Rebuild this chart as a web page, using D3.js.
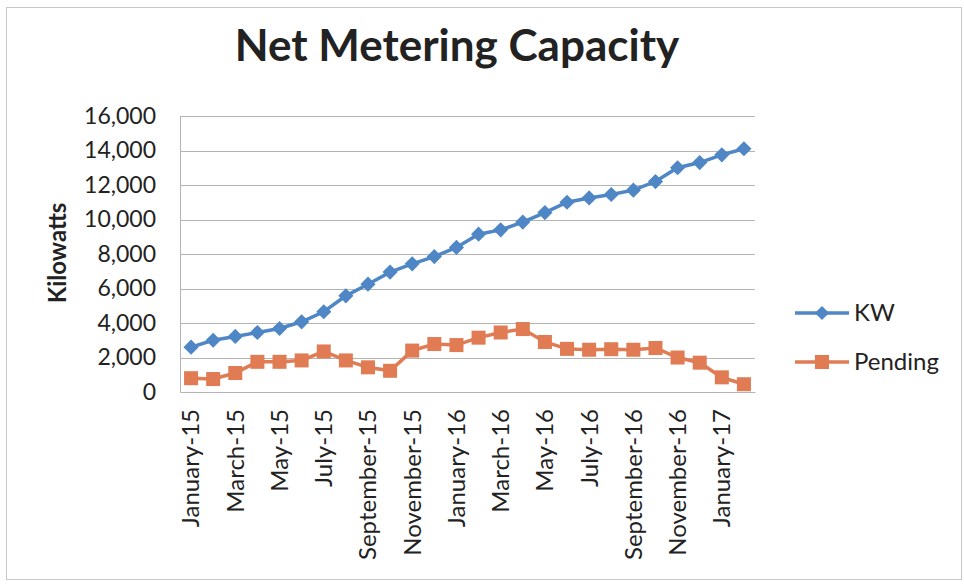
<!DOCTYPE html>
<html><head><meta charset="utf-8">
<script src="https://cdn.jsdelivr.net/npm/d3@7"></script>
<style>body{margin:0;background:#fff}svg{display:block}</style>
</head><body><svg id="c" width="964" height="584"></svg>
<script>
const months = ["January-15","February-15","March-15","April-15","May-15","June-15","July-15","August-15","September-15","October-15","November-15","December-15","January-16","February-16","March-16","April-16","May-16","June-16","July-16","August-16","September-16","October-16","November-16","December-16","January-17","February-17"];
const kwValues = [2600,3000,3220,3450,3680,4070,4650,5575,6250,6950,7430,7850,8380,9150,9400,9850,10400,11000,11250,11450,11700,12200,13000,13300,13750,14100];
const pendingValues = [800,750,1100,1750,1750,1830,2350,1830,1430,1230,2400,2780,2720,3150,3450,3650,2900,2500,2450,2480,2450,2550,2000,1700,850,450];
const yTicks = [0,2000,4000,6000,8000,10000,12000,14000,16000];
const seriesNames = ["KW","Pending"];
const colors = ["#4F86C6","#E07B53"];

const svg = d3.select("#c");
const font = "Lato, 'Open Sans', sans-serif";
svg.append("rect").attr("x",6.5).attr("y",7.5).attr("width",955).attr("height",572)
  .attr("fill","#fff").attr("stroke","#c8c8c8");

const m = {l:180,t:116,r:755,b:392};
const x = d3.scaleBand().domain(months).range([m.l,m.r]);
const y = d3.scaleLinear().domain([0,16000]).range([m.b,m.t]);

svg.append("text").attr("x",457).attr("y",61).attr("text-anchor","middle")
  .attr("font-family",font).attr("font-weight","bold").attr("font-size",44).attr("fill","#222")
  .text("Net Metering Capacity");

// gridlines
svg.append("g").selectAll("line").data(yTicks.filter(d=>d>0)).join("line")
  .attr("x1",m.l).attr("x2",m.r).attr("y1",d=>Math.round(y(d))+0.5).attr("y2",d=>Math.round(y(d))+0.5)
  .attr("stroke","#b4b4b4").attr("stroke-width",1);

// y axis
const ya = svg.append("g").attr("transform",`translate(${m.l},0)`)
  .call(d3.axisLeft(y).tickValues(yTicks).tickSize(0).tickPadding(24).tickFormat(d3.format(",")));
ya.select(".domain").attr("stroke","#b4b4b4");
ya.selectAll("text").attr("font-family",font).attr("font-size",23).attr("fill","#222");

// x axis
const xa = svg.append("g").attr("transform",`translate(0,${m.b})`)
  .call(d3.axisBottom(x).tickValues(months.filter((d,i)=>i%2===0)).tickSize(0));
xa.select(".domain").attr("stroke","#b4b4b4");
xa.selectAll("text").attr("font-family",font).attr("font-size",24).attr("fill","#222")
  .attr("transform","rotate(-90)").attr("text-anchor","end").attr("dy","0.35em").attr("x",-17).attr("y",0);

svg.append("text").attr("transform","translate(66,253) rotate(-90)").attr("text-anchor","middle")
  .attr("font-family",font).attr("font-weight","bold").attr("font-size",24).attr("fill","#222")
  .text("Kilowatts");

const cx = d => x(d) + x.bandwidth()/2;
const series = [kwValues, pendingValues];
series.forEach((vals,si)=>{
  const data = months.map((mo,i)=>({mo, v: vals[i]}));
  svg.append("path").datum(data).attr("fill","none").attr("stroke",colors[si]).attr("stroke-width",3.5)
    .attr("d", d3.line().x(d=>cx(d.mo)).y(d=>y(d.v)));
  const g = svg.append("g");
  if (si===0) {
    g.selectAll("path").data(data).join("path")
      .attr("d", d3.symbol().type(d3.symbolSquare).size(115)())
      .attr("transform", d=>`translate(${cx(d.mo)},${y(d.v)}) rotate(45)`).attr("fill",colors[si]);
  } else {
    g.selectAll("rect").data(data).join("rect")
      .attr("x",d=>cx(d.mo)-7).attr("y",d=>y(d.v)-7).attr("width",14).attr("height",14).attr("fill",colors[si]);
  }
});

// legend
const legY = [313,362];
seriesNames.forEach((n,i)=>{
  const g = svg.append("g");
  g.append("line").attr("x1",795).attr("x2",849).attr("y1",legY[i]).attr("y2",legY[i]).attr("stroke",colors[i]).attr("stroke-width",3.5);
  if (i===0) g.append("path").attr("d", d3.symbol().type(d3.symbolSquare).size(100)()).attr("transform",`translate(822,${legY[i]}) rotate(45)`).attr("fill",colors[i]);
  else g.append("rect").attr("x",815).attr("y",legY[i]-7).attr("width",14).attr("height",14).attr("fill",colors[i]);
  g.append("text").attr("x",854).attr("y",legY[i]).attr("dy","0.35em").attr("font-family",font).attr("font-size",24).attr("fill","#222").text(n);
});
</script></body></html>
